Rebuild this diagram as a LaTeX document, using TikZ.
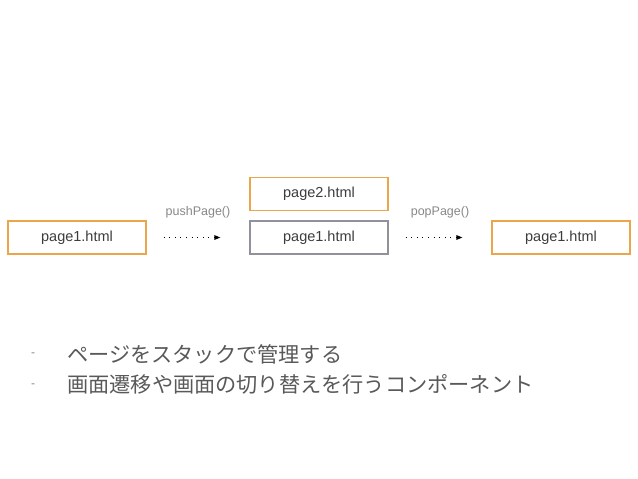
\documentclass[tikz,border=0pt]{standalone}
\usepackage{fontspec}
\setmainfont{Liberation Sans}
\newfontfamily\jpfont{Noto Sans CJK JP}
\usetikzlibrary{arrows.meta}

\definecolor{boxorange}{RGB}{235,165,75}
\definecolor{boxgray}{RGB}{145,145,155}
\definecolor{labelgray}{RGB}{135,135,135}
\definecolor{textgray}{RGB}{60,60,60}

\tikzset{
  page/.style={draw=boxorange,line width=1.1pt,minimum width=138pt,
    minimum height=33pt,inner sep=0pt,text=textgray,font=\fontsize{14.5}{16}\selectfont},
  stacked/.style={page,draw=boxgray},
  call/.style={text=labelgray,font=\fontsize{12.5}{14}\selectfont},
  bullet/.style={anchor=west,inner sep=0pt,text=textgray!85,
    font=\jpfont\fontsize{21.2}{24}\selectfont},
  dashmark/.style={anchor=west,inner sep=0pt,text=labelgray,font=\fontsize{12}{14}\selectfont}
}

\begin{document}
\begin{tikzpicture}[x=1pt,y=-1pt,
  >={Triangle[length=6pt,width=4.5pt]},node distance=242pt]

\useasboundingbox (0,0) rectangle (638,479);

\node[page] (p_1) at (77,237.5) {page1.html};
\node[stacked] (p_mid) [right of=p_1] {page1.html};
\node[page] (p_2) [above of=p_mid,node distance=43.5pt] {page2.html};
\node[page] (p_end) [right of=p_mid] {page1.html};

\path[->,line width=1.2pt,dash pattern=on 1pt off 4.6pt,
  shorten <=17pt,shorten >=29pt]
  (p_1) edge node[call,above=15pt] {pushPage()} (p_mid)
  (p_mid) edge node[call,above=15pt] {popPage()} (p_end);

\node[dashmark] (d_1) at (31,355) {-};
\node[bullet] (l_1) at (67,354) {ページをスタックで管理する};
\node[dashmark] (d_2) at (31,386) {-};
\node[bullet] (l_2) at (67,384) {画面遷移や画面の切り替えを行うコンポーネント};

\end{tikzpicture}
\end{document}
